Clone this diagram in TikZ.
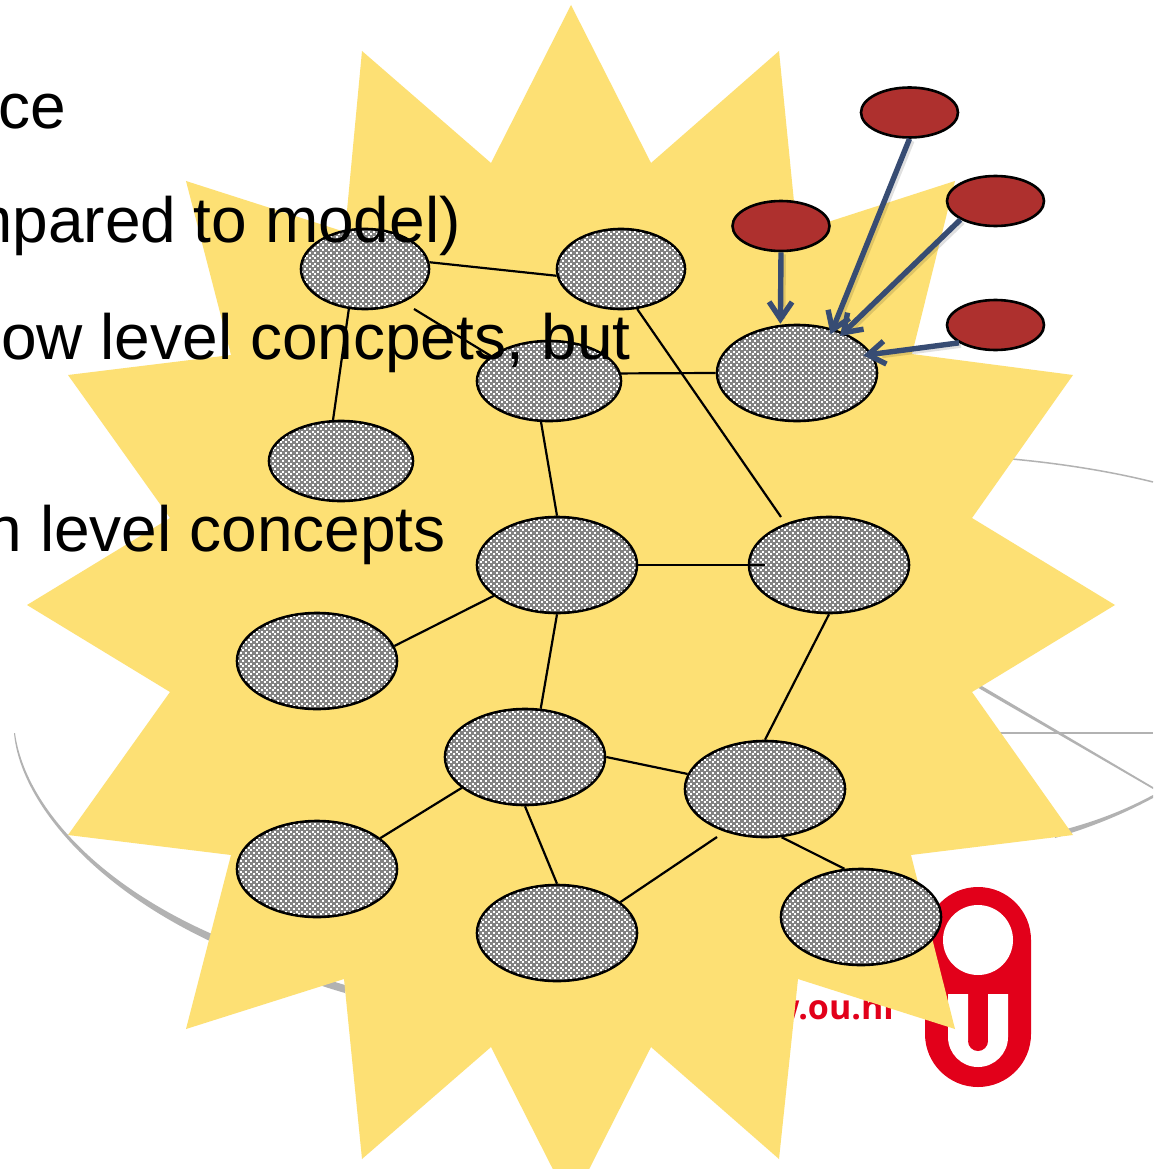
\documentclass[tikz,border=0pt]{standalone}
\usepackage{fontspec}
\setmainfont{Liberation Sans}
\newfontfamily\urlfont{Open Sans}
\usetikzlibrary{shapes.geometric,arrows.meta}
\definecolor{starfill}{HTML}{FDE074}
\definecolor{dotgrey}{HTML}{828282}
\definecolor{redfill}{HTML}{AE302E}
\definecolor{arrowblue}{HTML}{374C73}
\definecolor{arcgrey}{HTML}{B2B2B2}
\definecolor{logored}{HTML}{E2001A}
\tikzset{
  concept/.style={ellipse,draw=black,line width=2.6pt,inner sep=0pt,fill=dotgrey},
  small/.style={concept,minimum width=128pt,minimum height=80pt},
  medium/.style={concept,minimum width=144pt,minimum height=80pt},
  large/.style={concept,minimum width=160pt,minimum height=96pt},
  evidence/.style={ellipse,draw=black,line width=2.6pt,fill=redfill,inner sep=0pt,minimum width=97pt,minimum height=50pt},
  link/.style={draw=black,line width=2.2pt},
  influence/.style={draw=arrowblue,line width=5.4pt,-{Straight Barb[length=17pt,width=23pt,line width=5.4pt]}},
  influenceshadow/.style={draw=black,opacity=.12,line width=6pt},
  slidetext/.style={font=\fontsize{64}{64}\selectfont,anchor=base east,inner sep=0pt,text=black},
  arc/.style={fill=arcgrey,draw=none},
  arcline/.style={draw=arcgrey},
  dotrow/.style={draw=white,line width=2pt,dash pattern=on 2pt off 3.3333pt}
}
% white dots inside a concept node: #1 name, #2 half width, #3 half height
\newcommand{\dotsinside}[3]{%
  \begin{scope}
    \clip (#1.center) ellipse [x radius=#2-1.2,y radius=#3-1.2];
    \pgfmathtruncatemacro{\rowmax}{2*#3/2.6667}
    \foreach \i in {0,...,\rowmax}{
      \pgfmathsetmacro{\dy}{-#3+\i*2.6667}
      \pgfmathsetmacro{\ph}{mod(\i,2)*2.6667}
      \draw[dotrow,dash phase=\ph pt] ([shift={(-#2,\dy)}]#1.center) -- ([shift={(#2,\dy)}]#1.center);
    }
  \end{scope}}
\begin{document}
\begin{tikzpicture}[x=1pt,y=-1pt]
\clip (0,0) rectangle (1153,1169);
\fill[white] (0,0) rectangle (1153,1169);
% background slide arcs
\fill[arc] (14,733) .. controls (20,800) and (90,885) .. (212,942) .. controls (250,960) and (300,980) .. (345,993)
  -- (345,985) .. controls (300,972) and (250,950) .. (212,934) .. controls (90,880) and (24,800) .. (15,733) -- cycle;
\fill[arc] (1055,832) .. controls (1095,822) and (1125,810) .. (1153,795) -- (1153,798) .. controls (1125,813) and (1095,826) .. (1055,838) -- cycle;
\fill[arc] (975,682) -- (1153,787) -- (1153,789) -- (975,686) -- cycle;
\draw[arcline,line width=1.2pt] (990,733) -- (1153,733);
\draw[arcline,line width=1.5pt] (1000,458) .. controls (1050,462) and (1105,470) .. (1153,482);
% logo
\fill[logored] (925,940) arc[start angle=180,end angle=360,radius=53] -- (1031,1034) arc[start angle=0,end angle=180,radius=53] -- cycle;
\fill[white] (978,940) circle[radius=35];
\fill[white] (948,994) -- (968,994) -- (968,1041) -- (988,1041) -- (988,994) -- (1008,994) -- (1008,1037) arc[start angle=0,end angle=180,radius=30] -- cycle;
\fill[logored] (968,1041) arc[start angle=180,end angle=0,radius=10] -- cycle;
\node[font=\urlfont\bfseries\fontsize{34}{34}\selectfont,text=logored,anchor=base east,inner sep=0pt] (url) at (894,1019) {www.ou.nl};
% star
\fill[starfill] (571,5) -- (651,163) -- (779,51) -- (797,232) -- (955,181) -- (912,354) -- (1073,375) -- (972,518) -- (1115,605) -- (972,692) -- (1073,835) -- (911,855) -- (955,1029) -- (798,979) -- (779,1159) -- (651,1047) -- (571,1205) -- (491,1047) -- (362,1159) -- (344,979) -- (186,1029) -- (231,855) -- (68,835) -- (170,692) -- (27,605) -- (170,518) -- (68,375) -- (231,355) -- (186,181) -- (345,232) -- (362,51) -- (491,163) -- cycle;
% concept nodes
\node[small] (n1) at (365,269) {};
\node[small] (n2) at (621,269) {};
\node[medium] (n3) at (549,381) {};
\node[medium] (n4) at (341,461) {};
\node[large] (n5) at (797,373) {};
\node[large] (n6) at (557,565) {};
\node[large] (n7) at (829,565) {};
\node[large] (n8) at (317,661) {};
\node[large] (n9) at (525,757) {};
\node[large] (n10) at (765,789) {};
\node[large] (n11) at (317,869) {};
\node[large] (n12) at (557,933) {};
\node[large] (n13) at (861,917) {};
\dotsinside{n1}{64}{40}
\dotsinside{n2}{64}{40}
\dotsinside{n3}{72}{40}
\dotsinside{n4}{72}{40}
\foreach \n in {n5,n6,n7,n8,n9,n10,n11,n12,n13}{\dotsinside{\n}{80}{48}}
% free ends of connectors
\coordinate (c13) at (414,309);
\coordinate (c31) at (491,356);
\coordinate (c27) at (781,517);
\coordinate (c67) at (765,565);
\coordinate (c1012) at (717,837);
% connectors
\draw[link] (n1.6) -- (n2.186);
\draw[link] (n1.248) -- (n4.101);
\draw[link] (c13) -- (c31);
\draw[link] (n3.6) -- (n5.west);
\draw[link] (n2.-68) -- (c27);
\draw[link] (n3.-101) -- (n6.north);
\draw[link] (n6.east) -- (c67);
\draw[link] (n6.206) -- (n8.11);
\draw[link] (n6.south) -- (n9.72);
\draw[link] (n9.east) -- (n10.169);
\draw[link] (n7.south) -- (n10.north);
\draw[link] (n9.206) -- (n11.26);
\draw[link] (n9.south) -- (n12.north);
\draw[link] (c1012) -- (n12.26);
\draw[link] (n10.-71) -- (n13.109);
% evidence nodes
\node[evidence] (r1) at (781,226) {};
\node[evidence] (r2) at (909.5,112.5) {};
\node[evidence] (r3) at (995.5,201) {};
\node[evidence] (r4) at (995.5,325) {};
% arrows
\foreach \src/\ang/\sh in {r1.south/109/1pt,r2.south/51/-6pt,r3.208/41/-5pt,r4.206/14/-9pt}{
  \draw[influenceshadow,transform canvas={shift={(2pt,-2pt)}},shorten >=8pt] (\src) -- (n5.\ang);
  \draw[influence,shorten >=\sh] (\src) -- (n5.\ang);
}
% slide text
\node[slidetext] (t1) at (66,129) {ce};
\node[slidetext] (t2) at (461,242) {mpared to model)};
\node[slidetext] (t3) at (631,359) {ow level concpets, but};
\node[slidetext] (t4) at (446,551) {n level concepts};
\end{tikzpicture}
\end{document}
